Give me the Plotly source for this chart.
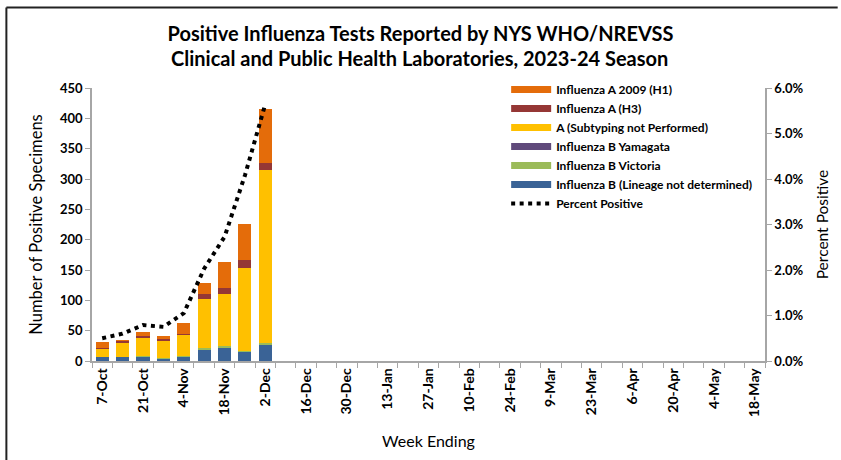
import plotly.graph_objects as go

weeks = ["7-Oct", "14-Oct", "21-Oct", "28-Oct", "4-Nov", "11-Nov", "18-Nov", "25-Nov",
         "2-Dec", "9-Dec", "16-Dec", "23-Dec", "30-Dec", "6-Jan", "13-Jan", "20-Jan",
         "27-Jan", "3-Feb", "10-Feb", "17-Feb", "24-Feb", "2-Mar", "9-Mar", "16-Mar",
         "23-Mar", "30-Mar", "6-Apr", "13-Apr", "20-Apr", "27-Apr", "4-May", "11-May",
         "18-May"]
reported_weeks = weeks[:9]

b_lineage_nd = [6, 6, 7, 4, 8, 18, 23, 16, 27]
b_victoria = [0, 0, 1, 1, 1, 4, 2, 1, 2]
b_yamagata = [0, 0, 0, 0, 0, 0, 0, 0, 0]
a_not_subtyped = [15, 25, 31, 28, 34, 81, 85, 136, 286]
a_h3 = [1, 2, 2, 3, 1, 8, 10, 14, 12]
a_h1_2009 = [10, 1, 6, 6, 18, 18, 43, 59, 88]
percent_positive = [0.0050, 0.0060, 0.0079, 0.0075, 0.0105, 0.0203, 0.0273, 0.0408, 0.0565]

tick_labels = [w if i % 2 == 0 else "" for i, w in enumerate(weeks)]

series = [
    ("Influenza B (Lineage not determined)", b_lineage_nd, "#3A6396"),
    ("Influenza B Victoria", b_victoria, "#9BBB59"),
    ("Influenza B Yamagata", b_yamagata, "#604A7B"),
    ("A (Subtyping not Performed)", a_not_subtyped, "#FFC000"),
    ("Influenza A (H3)", a_h3, "#953735"),
    ("Influenza A 2009 (H1)", a_h1_2009, "#E46C0A"),
]

FONT = "Lato"
fig = go.Figure()

for name, vals, col in series:
    fig.add_trace(go.Bar(x=reported_weeks, y=vals, name=name, marker_color=col,
                         marker_line_width=0, showlegend=False))

# legend entries (line-style keys as in the original)
for name, vals, col in reversed(series):
    fig.add_trace(go.Scatter(x=[weeks[0]], y=[None], mode="lines", name=name,
                             line=dict(color=col, width=7), showlegend=True,
                             hoverinfo="skip"))

fig.add_trace(go.Scatter(x=reported_weeks, y=percent_positive, mode="lines",
                         name="Percent Positive", yaxis="y2",
                         line=dict(color="black", width=4, dash="4px,4.5px")))

axis_col = "#A6A6A6"
fig.update_layout(
    width=841, height=460,
    margin=dict(l=92, r=73, t=88, b=97),
    paper_bgcolor="white", plot_bgcolor="white",
    barmode="stack", bargap=0.36,
    font=dict(family=FONT, color="black"),
    title=dict(text="Positive Influenza Tests Reported by NYS WHO/NREVSS",
               x=0.5, xref="container", xanchor="center", y=1 - 34 / 460, yanchor="middle",
               font=dict(family=FONT, size=20, weight="bold", color="black")),
    annotations=[dict(text="Clinical and Public Health Laboratories, 2023-24 Season",
                      xref="paper", yref="paper", x=(420.5 - 92) / 676, y=(363 - 58) / 275,
                      xanchor="center", yanchor="middle", showarrow=False,
                      font=dict(family=FONT, size=20, weight="bold", color="black"))],
    xaxis=dict(type="category", categoryorder="array", categoryarray=weeks,
               range=[-0.5, len(weeks) - 0.5],
               tickmode="array", tickvals=weeks, ticktext=tick_labels,
               tickangle=-90, tickson="boundaries", ticks="outside", ticklen=5,
               tickcolor=axis_col, showline=True, linecolor=axis_col, linewidth=1.5,
               tickfont=dict(family=FONT, size=14, weight="bold", color="black"),
               showgrid=False, zeroline=False,
               title=dict(text="Week Ending", font=dict(family=FONT, size=16), standoff=20)),
    yaxis=dict(range=[0, 450], dtick=50, ticks="outside", ticklen=5, tickcolor=axis_col,
               showline=True, linecolor=axis_col, linewidth=1.5, showgrid=False,
               zeroline=False,
               tickfont=dict(family=FONT, size=13, weight="bold", color="black"),
               title=dict(text="Number of Positive Specimens", font=dict(family=FONT, size=16.5),
                          standoff=13)),
    yaxis2=dict(range=[0, 0.06], dtick=0.01, tickformat=".1%", overlaying="y", side="right",
                ticks="outside", ticklen=5, tickcolor=axis_col, showline=True,
                linecolor=axis_col, linewidth=1.5, showgrid=False, zeroline=False,
                tickfont=dict(family=FONT, size=13, weight="bold", color="black"),
                title=dict(text="Percent Positive", font=dict(family=FONT, size=15.5),
                           standoff=15)),
    legend=dict(x=(508 - 92) / 676, y=(363 - 75) / 275, xanchor="left", yanchor="top",
                bgcolor="rgba(0,0,0,0)",
                font=dict(family=FONT, size=12, weight="bold", color="black"),
                itemwidth=40, tracegroupgap=0, traceorder="normal"),
)

# chart frame (top and left edges visible in the original)
fig.add_shape(type="line", xref="paper", yref="paper",
              x0=(6 - 92) / 676, x1=(841 - 92) / 676, y0=(363 - 7) / 275, y1=(363 - 7) / 275,
              line=dict(color="#222222", width=2))
fig.add_shape(type="line", xref="paper", yref="paper",
              x0=(6 - 92) / 676, x1=(6 - 92) / 676, y0=(363 - 7) / 275, y1=(363 - 470) / 275,
              line=dict(color="#222222", width=2))

fig.write_html("out.html", config={"displayModeBar": False},
               post_script="document.body.style.margin='0';")
